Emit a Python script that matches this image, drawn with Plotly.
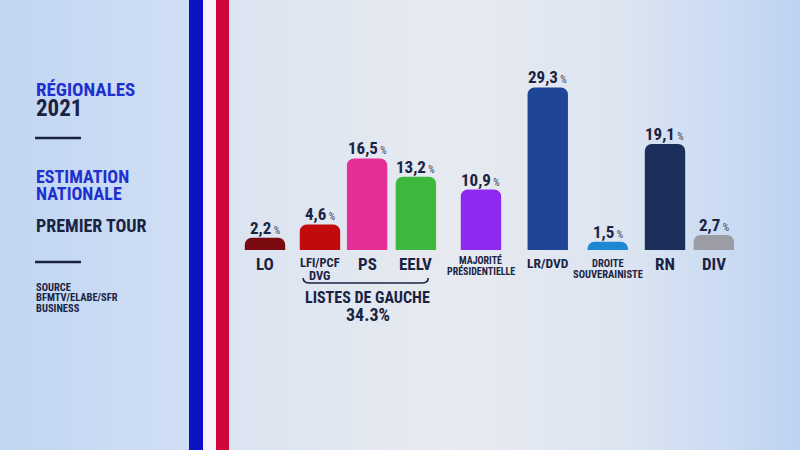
import plotly.graph_objects as go

# ---- data ----
categories = ["LO", "LFI/PCF<br>DVG", "PS", "EELV", "MAJORITÉ<br>PRÉSIDENTIELLE",
              "LR/DVD", "DROITE<br>SOUVERAINISTE", "RN", "DIV"]
values = [2.2, 4.6, 16.5, 13.2, 10.9, 29.3, 1.5, 19.1, 2.7]
value_labels = ["2,2", "4,6", "16,5", "13,2", "10,9", "29,3", "1,5", "19,1", "2,7"]
group_label = "LISTES DE GAUCHE"
group_total = "34.3%"

# ---- layout / style ----
x_slots = [0, 0.98, 1.82, 2.69, 3.85, 5.04, 6.11, 7.13, 8.0]
bar_colors = ["#7a0a10", "#c20a0c", "#e52f98", "#3cb93c", "#9029f0",
              "#1f4596", "#1d87d3", "#1c2e5a", "#9b9ca4"]
label_sizes = [17, 12.5, 17, 17, 10, 13.5, 10.5, 17, 17]
label_top = [-2, -3, -2, -2, -2, -3, -5, -2, -2]
NAVY = "#1b2343"
BLUE = "#1f30cf"
FONT = "Roboto Condensed, DejaVu Sans Condensed, sans-serif"

W, H = 800, 450
px_per_slot = 56.1
x0_px = 265
px_per_pct = 5.55
base_px = 250

xr = [-x0_px / px_per_slot, (W - x0_px) / px_per_slot]
yr = [-(H - base_px) / px_per_pct, base_px / px_per_pct]

fig = go.Figure()
fig.add_trace(go.Bar(
    x=x_slots, y=values, width=0.72,
    marker=dict(color=bar_colors, line=dict(width=0), cornerradius=7),
    hoverinfo="skip",
))

shapes = []
def hex2rgb(h):
    h = h.lstrip("#")
    return [int(h[i:i + 2], 16) for i in (0, 2, 4)]

stops = [(0, "#c1d6f3"), (185, "#cfdef3"), (230, "#dbe4f1"), (450, "#e7eaf0"),
         (620, "#dde5f1"), (800, "#bdd3f3")]

def col_at(x):
    for (a, ca), (b, cb) in zip(stops[:-1], stops[1:]):
        if a <= x <= b:
            t = (x - a) / (b - a)
            c1, c2 = hex2rgb(ca), hex2rgb(cb)
            return "rgb(%d,%d,%d)" % tuple(round(c1[i] + (c2[i] - c1[i]) * t) for i in range(3))
    return stops[-1][1]

N = 100
for i in range(N):
    xa = i * W / N
    xb = (i + 1) * W / N
    shapes.append(dict(type="rect", xref="paper", yref="paper", x0=xa / W, x1=xb / W + 0.001,
                       y0=0, y1=1, fillcolor=col_at((xa + xb) / 2), line=dict(width=0), layer="below"))

# flag stripes
shapes.append(dict(type="rect", xref="paper", yref="paper", x0=203 / W, x1=216 / W, y0=0, y1=1,
                   fillcolor="#f4f4fa", line=dict(width=0), layer="below"))
shapes.append(dict(type="rect", xref="paper", yref="paper", x0=189 / W, x1=203 / W, y0=0, y1=1,
                   fillcolor="#0b12c4", line=dict(width=0), layer="below"))
shapes.append(dict(type="rect", xref="paper", yref="paper", x0=216 / W, x1=229 / W, y0=0, y1=1,
                   fillcolor="#cf0638", line=dict(width=0), layer="below"))

# left panel separators
for yy in (138, 262):
    shapes.append(dict(type="line", xref="paper", yref="paper", x0=35 / W, x1=81 / W,
                       y0=1 - yy / H, y1=1 - yy / H, line=dict(color=NAVY, width=2.5)))

# brace under the left group
xl = x_slots[1] - 0.3
xrr = x_slots[3] + 0.22
yb = -(283 - base_px) / px_per_pct
yt = -(278 - base_px) / px_per_pct
path = (f"M {xl},{yt} Q {xl},{yb} {xl + 0.12},{yb} L {xrr - 0.12},{yb} Q {xrr},{yb} {xrr},{yt}")
shapes.append(dict(type="path", xref="x", yref="y", path=path, line=dict(color=NAVY, width=1.6)))

annotations = []
for xs, v, lab, cat, sz, top in zip(x_slots, values, value_labels, categories, label_sizes, label_top):
    annotations.append(dict(x=xs, y=v, xref="x", yref="y", yanchor="bottom", yshift=-2,
                            text=f"<b>{lab}</b><span style='font-size:10px;color:#3a4260'> %</span>",
                            showarrow=False, font=dict(family=FONT, size=17, color=NAVY)))
    for j, line in enumerate(cat.split("<br>")):
        annotations.append(dict(x=xs, y=0, xref="x", yref="y", yanchor="top",
                                yshift=top - j * sz * 1.05,
                                text=f"<b>{line}</b>", showarrow=False,
                                font=dict(family=FONT, size=sz, color=NAVY)))

gx = (x_slots[1] + x_slots[3]) / 2
annotations.append(dict(x=gx, y=-(297 - base_px) / px_per_pct, xref="x", yref="y",
                        text=f"<b>{group_label}</b>", showarrow=False,
                        font=dict(family=FONT, size=16, color=NAVY)))
annotations.append(dict(x=gx, y=-(314 - base_px) / px_per_pct, xref="x", yref="y",
                        text=f"<b>{group_total}</b>", showarrow=False,
                        font=dict(family=FONT, size=18, color=NAVY)))

left_texts = [
    ("RÉGIONALES", 90, 19, BLUE),
    ("2021", 108, 23, NAVY),
    ("ESTIMATION", 176, 18, BLUE),
    ("NATIONALE", 193, 18, BLUE),
    ("PREMIER TOUR", 225, 18, NAVY),
    ("SOURCE", 287, 10.5, NAVY),
    ("BFMTV/ELABE/SFR", 297, 10.5, NAVY),
    ("BUSINESS", 308, 10.5, NAVY),
]
for txt, yy, sz, c in left_texts:
    annotations.append(dict(x=34 / W, y=1 - yy / H, xref="paper", yref="paper",
                            xanchor="left", yanchor="middle", text=f"<b>{txt}</b>",
                            showarrow=False, font=dict(family=FONT, size=sz, color=c)))

fig.update_layout(
    width=W, height=H, margin=dict(l=0, r=0, t=0, b=0),
    paper_bgcolor="#e3e9f2", plot_bgcolor="rgba(0,0,0,0)",
    xaxis=dict(range=xr, visible=False, fixedrange=True),
    yaxis=dict(range=yr, visible=False, fixedrange=True, zeroline=False),
    showlegend=False, shapes=shapes, annotations=annotations,
)
fig.write_html(
    "out.html",
    config={"displayModeBar": False},
    post_script="document.body.style.margin='0';document.body.style.overflow='hidden';",
)
